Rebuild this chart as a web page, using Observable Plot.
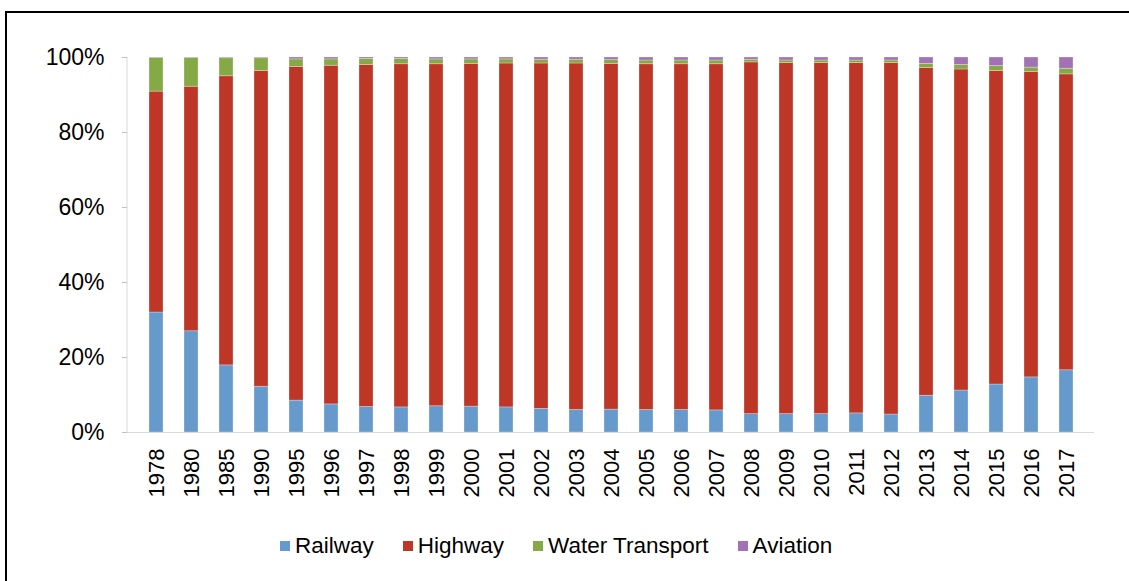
<!DOCTYPE html>
<html>
<head>
<meta charset="utf-8">
<script src="https://cdn.jsdelivr.net/npm/d3@7"></script>
<script src="https://cdn.jsdelivr.net/npm/@observablehq/plot@0.6"></script>
<style>
  html, body { margin: 0; padding: 0; background: #fff; overflow: hidden; }
  body { width: 1129px; height: 581px; position: relative; font-family: "Liberation Sans", Arial, sans-serif; }
  #frame { position: absolute; left: 5px; top: 11px; width: 1300px; height: 700px; border-top: 2px solid #000; border-left: 2px solid #000; }
  #chart { position: absolute; left: 0; top: 0; }
  #legend { position: absolute; left: 280px; top: 533px; display: flex; align-items: center; font-size: 22.5px; color: #000; white-space: nowrap; }
  .item { display: flex; align-items: center; margin-right: 29px; }
  .sw { width: 10px; height: 10px; margin-right: 5px; }
</style>
</head>
<body>
<div id="frame"></div>
<div id="chart"></div>
<div id="legend"></div>
<script>
const years = ["1978","1980","1985","1990","1995","1996","1997","1998","1999","2000","2001","2002","2003","2004","2005","2006","2007","2008","2009","2010","2011","2012","2013","2014","2015","2016","2017"];
const seriesNames = ["Railway", "Highway", "Water Transport", "Aviation"];
const seriesColors = ["#6699cc", "#be3726", "#85aa45", "#a372b4"];
const railway  = [32.0,27.0,17.9,12.2,8.5,7.5,6.8,6.7,7.0,6.9,6.7,6.3,6.0,6.1,6.0,6.0,5.9,4.9,4.9,4.9,5.1,4.8,9.8,11.2,12.8,14.7,16.6];
const highway  = [58.9,65.2,77.1,84.2,89.0,90.3,91.2,91.5,91.2,91.4,91.7,92.1,92.4,92.2,92.2,92.2,92.3,93.8,93.6,93.6,93.4,93.7,87.4,85.6,83.6,81.4,78.9];
const water    = [9.0,7.7,4.8,3.4,2.0,1.7,1.6,1.4,1.3,1.2,1.1,1.0,1.0,1.0,1.0,1.0,1.0,0.7,0.7,0.7,0.7,0.7,1.1,1.2,1.3,1.2,1.5];
const aviation = [0.1,0.1,0.2,0.2,0.5,0.5,0.4,0.4,0.5,0.5,0.5,0.6,0.6,0.7,0.8,0.8,0.8,0.6,0.8,0.8,0.8,0.8,1.7,2.0,2.3,2.7,3.0];
const yTicks = [0, 20, 40, 60, 80, 100];

const seriesValues = [railway, highway, water, aviation];
const data = [];
years.forEach((yr, i) => {
  seriesNames.forEach((s, j) => data.push({year: yr, mode: s, value: seriesValues[j][i]}));
});

const leftLine = (index, scales, values, dims) => {
  const line = document.createElementNS("http://www.w3.org/2000/svg", "line");
  line.setAttribute("x1", dims.marginLeft);
  line.setAttribute("x2", dims.marginLeft);
  line.setAttribute("y1", dims.marginTop);
  line.setAttribute("y2", dims.height - dims.marginBottom);
  line.setAttribute("stroke", "#d9d9d9");
  line.setAttribute("stroke-width", 1);
  return line;
};

const chart = Plot.plot({
  width: 1129,
  height: 510,
  marginLeft: 127,
  marginRight: 35,
  marginTop: 57,
  marginBottom: 78,
  style: {fontFamily: "Liberation Sans, Arial, sans-serif", color: "#000", background: "transparent"},
  x: {domain: years, paddingInner: 0.6, paddingOuter: 0.3, label: null},
  y: {domain: [0, 100], label: null},
  color: {domain: seriesNames, range: seriesColors},
  marks: [
    Plot.barY(data, {x: "year", y: "value", fill: "mode", stroke: "#fff", strokeOpacity: 0.35, strokeWidth: 0.8}),
    Plot.ruleY([0], {stroke: "#d9d9d9", strokeWidth: 1}),
    leftLine,
    Plot.axisY({ticks: yTicks, tickFormat: d => d + "%", tickSize: 5, tickPadding: 18, stroke: "#bfbfbf", fontSize: 23, fill: "#000", label: null}),
    Plot.axisX({tickRotate: -90, tickSize: 0, tickPadding: 16, fontSize: 22, fill: "#000", label: null})
  ]
});
document.getElementById("chart").appendChild(chart);

const legend = document.getElementById("legend");
seriesNames.forEach((s, i) => {
  const it = document.createElement("div");
  it.className = "item";
  const sw = document.createElement("div");
  sw.className = "sw";
  sw.style.background = seriesColors[i];
  const t = document.createElement("span");
  t.textContent = s;
  it.appendChild(sw);
  it.appendChild(t);
  legend.appendChild(it);
});
</script>
</body>
</html>
